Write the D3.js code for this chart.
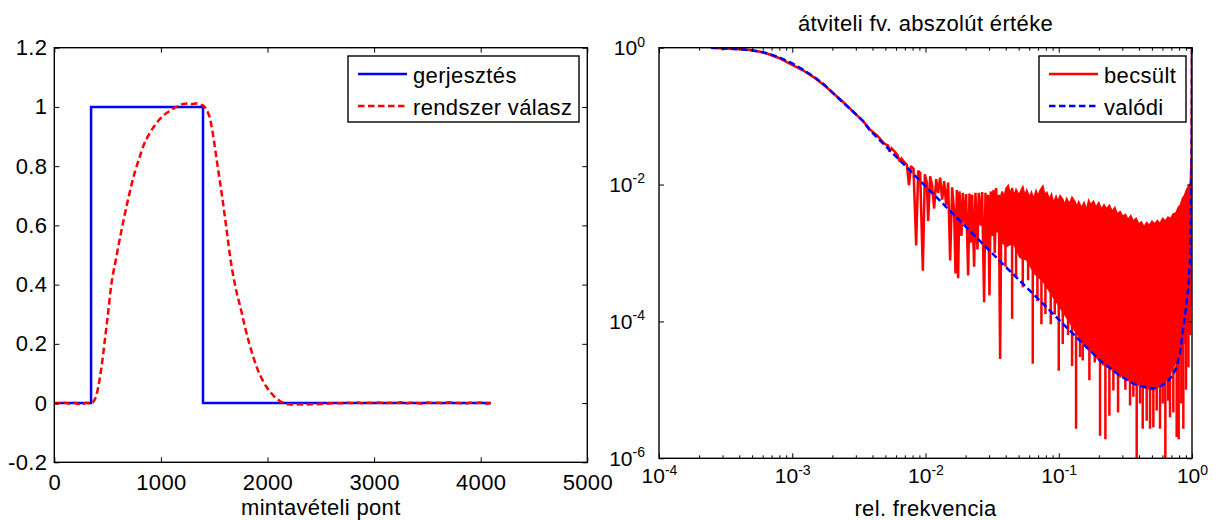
<!DOCTYPE html>
<html>
<head>
<meta charset="utf-8">
<script src="https://cdn.jsdelivr.net/npm/d3@7"></script>
<style>
  body { margin: 0; background: #fff; }
  svg text { font-family: "Liberation Sans", Arial, sans-serif; fill: #000; }
  .tick text { font-size: 22px; letter-spacing: 0.35px; }
  .log .tick text { font-size: 21px; letter-spacing: 0; }
  .tick line { stroke: #000; stroke-width: 1; }
</style>
</head>
<body>
<svg id="chart" width="1223" height="520"></svg>
<script>
// ---------- data ----------

// left: excitation (step) and system response, x = sample index
var stepX = [0, 345, 345, 1395, 1395, 4095];
var stepY = [0, 0, 1, 1, 0, 0];

// [sample, value]
var response = [
	[0, 0.001], [25, -0.002], [50, 0.0], [75, -0.003], [100, 0.001], [125, -0.001],
	[150, -0.002], [175, 0.002], [200, -0.001], [225, -0.003], [250, 0.0], [275, -0.002],
	[300, 0.001], [325, -0.001], [350, 0.0], [365, 0.004], [380, 0.012], [395, 0.027],
	[410, 0.05], [425, 0.08], [440, 0.115], [455, 0.155], [470, 0.2], [500, 0.29],
	[535, 0.40], [575, 0.48], [620, 0.565], [660, 0.635], [700, 0.70], [760, 0.785],
	[800, 0.83], [840, 0.872], [890, 0.908], [935, 0.934], [980, 0.955], [1030, 0.973],
	[1080, 0.986], [1125, 0.996], [1170, 1.005], [1210, 1.01], [1250, 1.012], [1290, 1.01],
	[1330, 1.012], [1375, 1.007], [1400, 1.004], [1420, 0.995], [1440, 0.982], [1460, 0.962],
	[1485, 0.915], [1510, 0.855], [1532, 0.80], [1555, 0.745], [1579, 0.686], [1600, 0.63],
	[1620, 0.575], [1651, 0.49], [1695, 0.40], [1752, 0.314], [1790, 0.255], [1830, 0.20],
	[1870, 0.152], [1909, 0.112], [1950, 0.08], [1988, 0.056], [2030, 0.036], [2066, 0.021],
	[2100, 0.011], [2129, 0.004], [2160, -0.001], [2192, -0.004], [2250, -0.005], [2300, -0.004],
	[2350, -0.005], [2400, -0.004], [2450, -0.004], [2500, -0.003], [2550, -0.002], [2600, -0.001],
	[2650, 0.0], [2700, -0.001], [2750, 0.001], [2800, 0.0], [2850, 0.002], [2900, -0.001],
	[2950, 0.001], [3000, 0.0], [3050, 0.002], [3100, -0.001], [3150, 0.001], [3200, 0.0],
	[3250, 0.003], [3300, -0.001], [3350, 0.001], [3400, 0.0], [3450, -0.002], [3500, 0.002],
	[3550, 0.0], [3600, 0.001], [3650, -0.001], [3700, 0.003], [3750, 0.001], [3800, 0.0],
	[3850, -0.002], [3900, 0.001], [3950, 0.0], [4000, 0.002], [4050, -0.002], [4095, 0.0]
];

var timeTicks = [0, 1000, 2000, 3000, 4000, 5000];
var ampTicks = [-0.2, 0, 0.2, 0.4, 0.6, 0.8, 1, 1.2];

// right: transfer function magnitude, log-log.
// pairs are [log10 rel. frequency, log10 magnitude]
var trueMag = [
	[-3.61, 0], [-3.5, -0.012], [-3.4, -0.022], [-3.32, -0.035], [-3.25, -0.055], [-3.19, -0.08],
	[-3.1, -0.14], [-3.0, -0.23], [-2.92, -0.32], [-2.84, -0.42], [-2.76, -0.54], [-2.69, -0.67],
	[-2.62, -0.80], [-2.54, -0.94], [-2.47, -1.07], [-2.42, -1.2], [-2.17, -1.69], [-1.92, -2.18],
	[-1.67, -2.67], [-1.42, -3.16], [-1.19, -3.6], [-0.94, -4.09], [-0.69, -4.57], [-0.55, -4.78],
	[-0.44, -4.91], [-0.37, -4.95], [-0.3, -4.98], [-0.25, -4.96], [-0.19, -4.89], [-0.15, -4.8],
	[-0.115, -4.67], [-0.09, -4.45], [-0.065, -4.09], [-0.045, -3.8], [-0.027, -3.5], [-0.015, -3.1],
	[-0.0044, -1.95], [-0.0022, -1.4], [-0.00087, -0.67], [-0.00043, -0.23], [-0.0001, 0]
];

// estimate, low frequency part and the sparse noisy part
var estMag = [
	[-3.61, 0], [-3.5, -0.01], [-3.4, -0.02], [-3.32, -0.035], [-3.25, -0.055], [-3.19, -0.085],
	[-3.1, -0.15], [-3.0, -0.25], [-2.92, -0.33], [-2.84, -0.43], [-2.76, -0.55], [-2.69, -0.67],
	[-2.62, -0.79], [-2.54, -0.94], [-2.47, -1.07], [-2.42, -1.19], [-2.36, -1.29], [-2.31, -1.40],
	[-2.28, -1.43], [-2.27, -1.52], [-2.255, -1.47], [-2.23, -1.52], [-2.21, -1.57], [-2.195, -1.66],
	[-2.18, -1.62], [-2.16, -1.67], [-2.14, -1.71], [-2.124, -2.01], [-2.11, -1.73], [-2.09, -1.77],
	[-2.07, -2.89], [-2.055, -1.80], [-2.04, -1.83], [-2.02, -3.26], [-2.005, -1.85], [-1.99, -1.97],
	[-1.98, -2.53], [-1.965, -1.88], [-1.95, -2.02], [-1.935, -2.35], [-1.92, -1.92], [-1.905, -2.12],
	[-1.89, -1.90], [-1.875, -2.22], [-1.86, -1.95], [-1.845, -2.30], [-1.83, -1.97], [-1.815, -3.11],
	[-1.80, -2.04], [-1.785, -2.4], [-1.775, -3.30], [-1.765, -2.08], [-1.755, -3.37], [-1.745, -2.10],
	[-1.73, -2.75], [-1.72, -2.12], [-1.705, -2.6], [-1.695, -2.14], [-1.68, -3.33], [-1.67, -2.13],
	[-1.66, -2.85], [-1.65, -2.15], [-1.635, -3.2], [-1.625, -2.12], [-1.61, -2.95], [-1.60, -2.12],
	[-1.585, -2.6], [-1.575, -2.11], [-1.56, -3.72], [-1.55, -2.12], [-1.54, -2.9], [-1.53, -2.15],
	[-1.52, -3.62], [-1.51, -2.10], [-1.50, -2.75], [-1.49, -2.08], [-1.48, -3.0], [-1.47, -2.05],
	[-1.46, -2.7], [-1.45, -2.15], [-1.44, -4.55], [-1.43, -2.20]
];

// dense part: upper edge and lower edge of the filled band
var estHi = [
	[-1.44, -2.23], [-1.425, -2.10], [-1.41, -2.20], [-1.395, -2.06], [-1.38, -2.02], [-1.365, -2.15],
	[-1.35, -2.05], [-1.335, -2.18], [-1.32, -2.08], [-1.30, -2.16], [-1.285, -2.10], [-1.27, -2.04],
	[-1.255, -2.17], [-1.24, -2.09], [-1.22, -2.19], [-1.205, -2.12], [-1.19, -2.22], [-1.17, -2.10],
	[-1.155, -2.18], [-1.14, -2.09], [-1.12, -2.03], [-1.105, -2.16], [-1.09, -2.12], [-1.07, -2.22],
	[-1.055, -2.15], [-1.04, -2.28], [-1.02, -2.18], [-1.005, -2.26], [-0.99, -2.17], [-0.97, -2.22],
	[-0.955, -2.31], [-0.94, -2.21], [-0.92, -2.29], [-0.90, -2.19], [-0.88, -2.25], [-0.865, -2.33],
	[-0.85, -2.26], [-0.83, -2.35], [-0.81, -2.27], [-0.79, -2.38], [-0.775, -2.24], [-0.76, -2.30],
	[-0.74, -2.25], [-0.72, -2.34], [-0.70, -2.27], [-0.68, -2.37], [-0.66, -2.30], [-0.64, -2.36],
	[-0.62, -2.31], [-0.60, -2.40], [-0.58, -2.34], [-0.56, -2.44], [-0.54, -2.40], [-0.52, -2.47],
	[-0.50, -2.44], [-0.48, -2.52], [-0.46, -2.46], [-0.44, -2.54], [-0.42, -2.50], [-0.40, -2.58],
	[-0.38, -2.55], [-0.36, -2.63], [-0.34, -2.56], [-0.32, -2.60], [-0.30, -2.54], [-0.28, -2.58],
	[-0.26, -2.53], [-0.24, -2.58], [-0.22, -2.50], [-0.20, -2.54], [-0.18, -2.48], [-0.16, -2.50],
	[-0.14, -2.43], [-0.12, -2.42], [-0.10, -2.33], [-0.085, -2.30], [-0.07, -2.20], [-0.055, -2.16],
	[-0.04, -2.08], [-0.025, -2.03], [-0.01, -1.98]
];
var estLo = [
	[-1.44, -2.82], [-1.39, -2.9], [-1.34, -2.85], [-1.29, -3.06], [-1.24, -3.1], [-1.18, -3.3],
	[-1.12, -3.4], [-1.07, -3.55], [-1.02, -3.7], [-0.97, -3.85], [-0.92, -4.0], [-0.87, -4.15],
	[-0.82, -4.3], [-0.75, -4.45], [-0.67, -4.62], [-0.6, -4.7], [-0.54, -4.77], [-0.48, -4.85],
	[-0.42, -4.91], [-0.35, -4.97], [-0.29, -5.0], [-0.23, -4.92], [-0.17, -4.77], [-0.13, -4.62],
	[-0.09, -4.48], [-0.06, -4.3], [-0.03, -4.08], [-0.01, -3.69]
];
// deep downward spikes below the band
var estSpikes = [
	[-1.40, -3.2], [-1.35, -3.96], [-1.32, -3.35], [-1.27, -3.5], [-1.23, -3.4], [-1.195, -4.62],
	[-1.16, -3.7], [-1.13, -4.04], [-1.10, -3.89], [-1.06, -4.04], [-1.03, -3.9], [-1.0, -4.72],
	[-0.97, -4.33], [-0.93, -4.2], [-0.90, -4.65], [-0.87, -5.57], [-0.84, -4.52], [-0.82, -4.57],
	[-0.79, -4.4], [-0.77, -4.86], [-0.73, -4.6], [-0.69, -5.67], [-0.65, -5.72], [-0.62, -5.38],
	[-0.59, -5.01], [-0.555, -5.33], [-0.54, -4.82], [-0.52, -4.8], [-0.50, -5.0], [-0.465, -5.23],
	[-0.44, -5.1], [-0.415, -6.1], [-0.39, -5.2], [-0.37, -5.57], [-0.34, -5.45], [-0.315, -5.57],
	[-0.29, -5.55], [-0.265, -5.3], [-0.24, -5.57], [-0.22, -5.2], [-0.20, -6.1], [-0.18, -5.16],
	[-0.165, -5.4], [-0.14, -5.33], [-0.115, -5.69], [-0.10, -5.72], [-0.08, -5.2], [-0.065, -5.57],
	[-0.045, -5.0], [-0.027, -4.67], [-0.015, -4.2]
];
// mirrored low-frequency part close to f = 1
var estTail = [
	[-0.01, -1.98], [-0.003, -1.6], [-0.0015, -1.0], [-0.0008, -0.5], [-0.0004, -0.2], [-0.0001, 0]
];
var spikeTop = -2.7; // spikes start inside the band

var freqTicks = [1e-4, 1e-3, 1e-2, 1e-1, 1];
var magTicks = [1e-6, 1e-4, 1e-2, 1];

// ---------- layout ----------
var left = { x0: 54.3, x1: 587.3, y0: 47.7, y1: 462.3 };
var right = { x0: 659, x1: 1192, y0: 47.7, y1: 458.3 };
var lineW = 2.5;
var dash = "6.5,3.5";
var p10 = e => Math.pow(10, e); // exponent -> value

var svg = d3.select("#chart");

// ---------- left panel ----------
var xL = d3.scaleLinear().domain([0, 5000]).range([left.x0, left.x1]);
var yL = d3.scaleLinear().domain([-0.2, 1.2]).range([left.y1, left.y0]);

svg.append("defs").append("clipPath").attr("id", "clipL")
	.append("rect").attr("x", left.x0).attr("y", left.y0)
	.attr("width", left.x1 - left.x0).attr("height", left.y1 - left.y0);

var gL = svg.append("g").attr("clip-path", "url(#clipL)");

gL.append("path")
	.datum(d3.zip(stepX, stepY))
	.attr("fill", "none")
	.attr("stroke", "#0000ff")
	.attr("stroke-width", lineW)
	.attr("d", d3.line().x(d => xL(d[0])).y(d => yL(d[1])));

gL.append("path")
	.datum(response)
	.attr("fill", "none")
	.attr("stroke", "#ff0000")
	.attr("stroke-width", lineW)
	.attr("stroke-dasharray", dash)
	.attr("d", d3.line().curve(d3.curveMonotoneX).x(d => xL(d[0])).y(d => yL(d[1])));

// axes, ticks pointing inward
function noDomain(g) { g.select(".domain").remove(); g.attr("font-size", null).attr("font-family", null); }

svg.append("g")
	.attr("transform", `translate(0,${left.y1})`)
	.call(d3.axisBottom(xL).tickValues(timeTicks).tickSize(-5).tickPadding(12).tickFormat(d => String(d)))
	.call(noDomain);
svg.append("g")
	.attr("transform", `translate(0,${left.y0})`)
	.call(d3.axisTop(xL).tickValues(timeTicks).tickSize(-5).tickFormat(""))
	.call(noDomain);
svg.append("g")
	.attr("transform", `translate(${left.x0},0)`)
	.call(d3.axisLeft(yL).tickValues(ampTicks).tickSize(-5).tickPadding(7).tickFormat(d => String(d)))
	.call(noDomain);
svg.append("g")
	.attr("transform", `translate(${left.x1},0)`)
	.call(d3.axisRight(yL).tickValues(ampTicks).tickSize(-5).tickFormat(""))
	.call(noDomain);

svg.append("rect")
	.attr("x", left.x0).attr("y", left.y0)
	.attr("width", left.x1 - left.x0).attr("height", left.y1 - left.y0)
	.attr("fill", "none").attr("stroke", "#000").attr("stroke-width", 1.4);

svg.append("text")
	.attr("x", (left.x0 + left.x1) / 2).attr("y", 515)
	.attr("text-anchor", "middle").style("font-size", "22px").style("letter-spacing", "0.35px")
	.text("mintavételi pont");

// ---------- right panel ----------
var xR = d3.scaleLog().domain([1e-4, 1]).range([right.x0, right.x1]);
var yR = d3.scaleLog().domain([1e-6, 1]).range([right.y1, right.y0]);

svg.select("defs").append("clipPath").attr("id", "clipR")
	.append("rect").attr("x", right.x0).attr("y", right.y0)
	.attr("width", right.x1 - right.x0).attr("height", right.y1 - right.y0);

var gR = svg.append("g").attr("clip-path", "url(#clipR)");
var logLine = d3.line().x(d => xR(p10(d[0]))).y(d => yR(p10(d[1])));

// estimate (red, solid)
gR.append("path")
	.datum(estMag)
	.attr("fill", "none").attr("stroke", "#ff0000").attr("stroke-width", lineW)
	.attr("stroke-linejoin", "miter").attr("stroke-miterlimit", 2)
	.attr("d", logLine);

gR.append("path")
	.datum(estHi.concat(estLo.slice().reverse()))
	.attr("fill", "#ff0000").attr("stroke", "#ff0000").attr("stroke-width", 2)
	.attr("d", d => logLine(d) + "Z");

gR.selectAll(".spike")
	.data(estSpikes)
	.enter()
	.append("line")
	.attr("class", "spike")
	.attr("x1", d => xR(p10(d[0])))
	.attr("x2", d => xR(p10(d[0])))
	.attr("y1", yR(p10(spikeTop)))
	.attr("y2", d => yR(p10(d[1])))
	.attr("stroke", "#ff0000").attr("stroke-width", lineW);

gR.append("path")
	.datum(estTail)
	.attr("fill", "none").attr("stroke", "#ff0000").attr("stroke-width", lineW)
	.attr("d", logLine);

// true (blue, dashed)
gR.append("path")
	.datum(trueMag)
	.attr("fill", "none").attr("stroke", "#0000ff").attr("stroke-width", lineW)
	.attr("stroke-dasharray", dash)
	.attr("d", logLine);

var minorTicks = xR.ticks().filter(d => freqTicks.indexOf(d) < 0);

function expLabel(sel) {
	sel.selectAll(".tick text").each(function(d) {
		var t = d3.select(this).text(null);
		t.append("tspan").text("10");
		t.append("tspan").attr("dy", "-0.6em").style("font-size", "14px")
			.text(String(Math.round(Math.log10(d))));
	});
}

svg.append("g").attr("class", "log")
	.attr("transform", `translate(0,${right.y1})`)
	.call(d3.axisBottom(xR).tickValues(freqTicks).tickSize(-5).tickPadding(10))
	.call(noDomain).call(expLabel);
svg.append("g")
	.attr("transform", `translate(0,${right.y1})`)
	.call(d3.axisBottom(xR).tickValues(minorTicks).tickSize(-3).tickFormat(""))
	.call(noDomain);
svg.append("g")
	.attr("transform", `translate(0,${right.y0})`)
	.call(d3.axisTop(xR).tickValues(freqTicks).tickSize(-5).tickFormat(""))
	.call(noDomain);
svg.append("g")
	.attr("transform", `translate(0,${right.y0})`)
	.call(d3.axisTop(xR).tickValues(minorTicks).tickSize(-3).tickFormat(""))
	.call(noDomain);
svg.append("g").attr("class", "log")
	.attr("transform", `translate(${right.x0},0)`)
	.call(d3.axisLeft(yR).tickValues(magTicks).tickSize(-5).tickPadding(14))
	.call(noDomain).call(expLabel);
svg.append("g")
	.attr("transform", `translate(${right.x1},0)`)
	.call(d3.axisRight(yR).tickValues(magTicks).tickSize(-5).tickFormat(""))
	.call(noDomain);

svg.append("rect")
	.attr("x", right.x0).attr("y", right.y0)
	.attr("width", right.x1 - right.x0).attr("height", right.y1 - right.y0)
	.attr("fill", "none").attr("stroke", "#000").attr("stroke-width", 1.4);

svg.append("text")
	.attr("x", (right.x0 + right.x1) / 2).attr("y", 31)
	.attr("text-anchor", "middle").style("font-size", "22px").style("letter-spacing", "0.35px")
	.text("átviteli fv. abszolút értéke");

svg.append("text")
	.attr("x", (right.x0 + right.x1) / 2).attr("y", 516)
	.attr("text-anchor", "middle").style("font-size", "22px").style("letter-spacing", "0.35px")
	.text("rel. frekvencia");

// ---------- legends ----------
function legend(x, y, w, h, entries) {
	var g = svg.append("g");
	g.append("rect").attr("x", x).attr("y", y).attr("width", w).attr("height", h)
		.attr("fill", "#fff").attr("stroke", "#000").attr("stroke-width", 1.4);
	entries.forEach(function(e, i) {
		var ly = y + 18 + i * 32;
		g.append("line")
			.attr("x1", x + 10).attr("x2", x + 59).attr("y1", ly).attr("y2", ly)
			.attr("stroke", e.color).attr("stroke-width", lineW)
			.attr("stroke-dasharray", e.dash ? dash : null);
		g.append("text")
			.attr("x", x + 65).attr("y", ly + 8.5)
			.style("font-size", "22px").style("letter-spacing", "0.35px")
			.text(e.label);
	});
}

legend(348, 56, 231, 66, [
	{ label: "gerjesztés", color: "#0000ff", dash: false },
	{ label: "rendszer válasz", color: "#ff0000", dash: true }
]);
legend(1039, 56, 147, 66, [
	{ label: "becsült", color: "#ff0000", dash: false },
	{ label: "valódi", color: "#0000ff", dash: true }
]);
</script>
</body>
</html>
